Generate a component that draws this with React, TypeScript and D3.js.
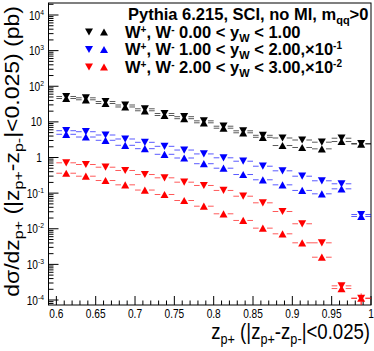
import React from 'react';
import * as d3 from 'd3';

// ---- data ----
const binCenters = [0.6125, 0.6375, 0.6625, 0.6875, 0.7125, 0.7375, 0.7625, 0.7875, 0.8125, 0.8375, 0.8625, 0.8875, 0.9125, 0.9375, 0.9625, 0.9875];
const binHalfWidth = 0.0125;

// W+ (down triangles) and W- (up triangles), unscaled dsigma/dz (pb)
const blackDown = [51.6, 47.4, 37.3, 29.8, 23.3, 17.2, 14.0, 10.7, 7.56, 5.62, 4.20, 3.53, 3.10, 2.69, 3.48, 2.47];
const blackUp = [45.3, 41.7, 32.8, 26.2, 20.5, 15.1, 12.3, 9.42, 6.64, 4.94, 3.69, 2.17, 1.91, 1.75, 2.81, 2.38];
const blueDown = [56.5, 53.0, 42.8, 33.1, 26.7, 20.6, 16.2, 12.6, 9.81, 7.87, 5.70, 4.23, 2.99, 2.22, 1.83, 0.251];
const blueUp = [44.8, 37.6, 30.4, 22.0, 17.7, 12.3, 9.68, 6.70, 5.01, 3.33, 2.37, 1.71, 1.19, 0.957, 1.32, 0.221];
const redDown = [71.0, 63.6, 53.4, 43.2, 33.3, 26.9, 20.3, 16.4, 11.9, 8.20, 5.35, 3.05, 1.38, 0.403, 0.0250, 0.0112];
const redUp = [36.2, 29.9, 22.6, 17.1, 12.2, 9.15, 6.21, 4.30, 2.63, 1.71, 1.04, 0.721, 0.403, 0.159, 0.0210, 0.0112];

// relative statistical errors
const blackErr = [0.03, 0.03, 0.03, 0.03, 0.03, 0.03, 0.03, 0.03, 0.03, 0.04, 0.04, 0.04, 0.04, 0.04, 0.04, 0.04];
const blueErr = [0.04, 0.04, 0.04, 0.04, 0.04, 0.04, 0.04, 0.05, 0.05, 0.05, 0.05, 0.05, 0.05, 0.06, 0.06, 0.08];
const redErr = [0.05, 0.05, 0.05, 0.05, 0.05, 0.05, 0.05, 0.05, 0.06, 0.06, 0.06, 0.07, 0.08, 0.1, 0.15, 0.35];

const scaleFactors = [1, 0.1, 0.01];
const seriesColors = ['#000000', '#0000ff', '#ff0000'];
const legendRanges = ['0.00 < y', '1.00 < y', '2.00 < y'];
const legendUpper = [' < 1.00', ' < 2.00', ' < 3.00'];
const legendScaleExp = ['', '-1', '-2'];

const xTickValues = [0.6, 0.65, 0.7, 0.75, 0.8, 0.85, 0.9, 0.95, 1.0];
const xTickLabels = ['0.6', '0.65', '0.7', '0.75', '0.8', '0.85', '0.9', '0.95', '1'];
const yDecades = [-4, -3, -2, -1, 0, 1, 2, 3, 4];

const W = 374, H = 351;
const L = 48.5, R = 371, T = 3, B = 305;
const C = 0.845; // horizontal text compression

const FONT = 'Liberation Sans, Arial, Helvetica, sans-serif';

function Marker({ cx, cy, up, color }: { cx: number; cy: number; up: boolean; color: string }) {
  const w = 4, h = 3.6;
  const d = up
    ? `M${cx - w},${cy + h}L${cx + w},${cy + h}L${cx},${cy - h}Z`
    : `M${cx - w},${cy - h}L${cx + w},${cy - h}L${cx},${cy + h}Z`;
  return <path d={d} fill={color} />;
}

export default function App() {
  const x = d3.scaleLinear().domain([0.59, 1.0]).range([L, R]);
  const y = d3.scaleLog().domain([Math.pow(10, -4.14), Math.pow(10, 4.337)]).range([B, T]);

  const groups = [
    { down: blackDown, up: blackUp, err: blackErr },
    { down: blueDown, up: blueUp, err: blueErr },
    { down: redDown, up: redUp, err: redErr },
  ];

  const marks: React.ReactNode[] = [];
  groups.forEach((g, gi) => {
    const color = seriesColors[gi];
    const sf = scaleFactors[gi];
    [{ vals: g.down, up: false }, { vals: g.up, up: true }].forEach((s, si) => {
      s.vals.forEach((v, i) => {
        const vv = v * sf;
        const cx = x(binCenters[i]);
        const cy = y(vv);
        const x0 = x(binCenters[i] - binHalfWidth);
        const x1 = x(binCenters[i] + binHalfWidth);
        const yHi = y(vv * (1 + g.err[i]));
        const yLo = y(vv * (1 - g.err[i]));
        const gap = 4.2;
        marks.push(
          <g key={`e-${gi}-${si}-${i}`} stroke={color} strokeWidth={1} strokeOpacity={0.65}>
            <line x1={x0} x2={cx - gap} y1={cy} y2={cy} />
            <line x1={cx + gap} x2={x1} y1={cy} y2={cy} />
            {cy - yHi > 3.6 && <line x1={cx} x2={cx} y1={cy - 3.6} y2={yHi} />}
            {yLo - cy > 3.6 && <line x1={cx} x2={cx} y1={cy + 3.6} y2={Math.min(yLo, B)} />}
          </g>
        );
      });
    });
    [{ vals: g.down, up: false }, { vals: g.up, up: true }].forEach((s, si) => {
      s.vals.forEach((v, i) => {
        marks.push(
          <Marker key={`m-${gi}-${si}-${i}`} cx={x(binCenters[i])} cy={y(v * sf)} up={s.up} color={color} />
        );
      });
    });
  });

  // ticks
  const ticks: React.ReactNode[] = [];
  xTickValues.forEach((t, i) => {
    const px = x(t);
    ticks.push(<line key={`xt${i}`} x1={px} x2={px} y1={B} y2={B - 9} stroke="#000" />);
  });
  for (let k = 59; k <= 100; k++) {
    if (k % 5 === 0) continue;
    const px = x(k / 100);
    ticks.push(<line key={`xm${k}`} x1={px} x2={px} y1={B} y2={B - 4.5} stroke="#000" />);
  }
  const [ymin, ymax] = y.domain();
  for (let e = -5; e <= 4; e++) {
    for (let m = 1; m <= 9; m++) {
      const v = m * Math.pow(10, e);
      if (v < ymin || v > ymax) continue;
      const py = y(v);
      ticks.push(
        <line key={`yt${e}_${m}`} x1={L} x2={L + (m === 1 ? 10 : 5)} y1={py} y2={py} stroke="#000" />
      );
    }
  }

  const yLabels = yDecades.map((e) => {
    const py = y(Math.pow(10, e));
    let content: React.ReactNode;
    if (e === 0) content = '1';
    else if (e === 1) content = '10';
    else content = (
      <>
        <tspan>10</tspan>
        <tspan dy={-5} fontSize={8}>{String(e)}</tspan>
      </>
    );
    return (
      <g key={`yl${e}`} transform={`translate(${e === 0 || e === 1 ? 42 : 44},${py + 4.5}) scale(${C},1)`}>
        <text textAnchor="end" fontSize={12} fontFamily={FONT}>{content}</text>
      </g>
    );
  });

  const xLabels = xTickValues.map((t, i) => (
    <g key={`xl${i}`} transform={`translate(${x(t)},${B + 13}) scale(${C},1)`}>
      <text textAnchor="middle" fontSize={12} fontFamily={FONT}>{xTickLabels[i]}</text>
    </g>
  ));

  // legend
  const legRowY = [32, 49.5, 67];
  const LF = 16.5;
  const legend = (
    <g fontFamily={FONT} fontWeight="bold">
      <text x={128} y={19.5} fontSize={LF}>
        Pythia 6.215, SCI, no MI, m<tspan dy={4} fontSize={11}>qq</tspan><tspan dy={-4}>&gt;0</tspan>
      </text>
      {seriesColors.map((c, i) => (
        <g key={`leg${i}`}>
          <Marker cx={89} cy={legRowY[i]} up={false} color={c} />
          <Marker cx={104} cy={legRowY[i]} up={true} color={c} />
          <text x={125} y={legRowY[i] + 5.5} fontSize={LF}>
            W<tspan dy={-5} fontSize={10}>+</tspan><tspan dy={5}>, W</tspan><tspan dy={-5} fontSize={10}>-</tspan>
            <tspan dy={5}> {legendRanges[i]}</tspan><tspan dy={4} fontSize={11}>W</tspan>
            <tspan dy={-4}>{legendUpper[i]}</tspan>
            {legendScaleExp[i] !== '' && (
              <>
                <tspan>,×10</tspan><tspan dy={-6} fontSize={10}>{legendScaleExp[i]}</tspan>
              </>
            )}
          </text>
        </g>
      ))}
    </g>
  );

  return (
    <svg width={W} height={H} style={{ position: 'absolute', left: 0, top: 0, background: '#fff' }}>
      <rect x={0} y={0} width={W} height={H} fill="#fff" />
      <rect x={L} y={T} width={R - L} height={B - T} fill="none" stroke="#000" strokeWidth={1} />
      {ticks}
      {marks}
      {yLabels}
      {xLabels}
      {legend}
      {/* x title */}
      <g transform={`translate(${R - 1},${339}) scale(${C},1)`}>
        <text textAnchor="end" fontSize={22} fontFamily={FONT}>
          z<tspan dy={5} fontSize={15}>p+</tspan><tspan dy={-5}> (|z</tspan><tspan dy={5} fontSize={15}>p+</tspan>
          <tspan dy={-5}>-z</tspan><tspan dy={5} fontSize={15}>p-</tspan><tspan dy={-5}>|&lt;0.025)</tspan>
        </text>
      </g>
      {/* y title */}
      <g transform={`translate(${19},${6}) rotate(-90) scale(1,${C})`}>
        <text textAnchor="end" fontSize={23} fontFamily={FONT}>
          dσ/dz<tspan dy={5} fontSize={16}>p+</tspan><tspan dy={-5}> (|z</tspan><tspan dy={5} fontSize={16}>p+</tspan>
          <tspan dy={-5}>-z</tspan><tspan dy={5} fontSize={16}>p-</tspan><tspan dy={-5}>|&lt;0.025) (pb)</tspan>
        </text>
      </g>
    </svg>
  );
}
